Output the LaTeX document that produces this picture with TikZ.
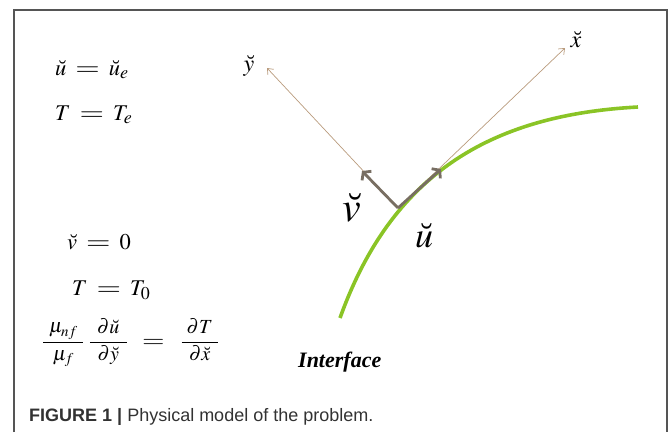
\documentclass[tikz,border=0pt]{standalone}
\usepackage{graphicx}
\usepackage{amsmath}
\usepackage{mathptmx}
\usepackage{fontspec}
\setmainfont{Liberation Serif}
\newfontfamily\capfont{Liberation Sans}
\usetikzlibrary{arrows.meta}
\definecolor{interfacegreen}{RGB}{138,196,38}
\definecolor{axisbrown}{RGB}{185,155,125}
\definecolor{velgray}{RGB}{120,110,98}
\definecolor{framegray}{RGB}{85,85,85}
\definecolor{captiongray}{RGB}{50,50,50}
% wide equals sign and larger subscripts
\newcommand{\eqs}{\mathrel{\hspace{4pt}\scalebox{1.4}[1.05]{$=$}\hspace{4pt}}}
\newcommand{\bigsub}[2]{_{\mbox{\fontsize{#1}{#1}\selectfont$#2$}}}
\newcommand{\padfrac}[3]{\dfrac{\makebox[#1]{$#2$}}{\makebox[#1]{$#3$}}}
\tikzset{
    eq/.style={anchor=base west, inner sep=0pt, font=\fontsize{22.5}{26}\selectfont},
    axis/.style={axisbrown, line width=0.7pt, -{Straight Barb[length=5pt,width=8pt]}},
    vel/.style={velgray, line width=2.8pt, -{Straight Barb[length=5pt,width=13pt]}},
}
\begin{document}
\begin{tikzpicture}[x=1pt,y=-1pt]
        \useasboundingbox (0,0) rectangle (669,432);
        % frame
            \draw[framegray, line width=1.4pt] (14,432) -- (14,10) -- (667,10) -- (667,432);
        % boundary conditions
            \node[eq] (ue) at (55,75) {$\breve{u}\eqs\breve{u}\bigsub{18}{e}$};
            \node[eq] (Te) at (55,120) {$T\eqs T\bigsub{18}{e}$};
            \node[eq] (v0) at (67,249) {$\breve{v}\eqs 0$};
            \node[eq] (T0) at (72,295) {$T\eqs T\bigsub{18}{0}$};
            \node[eq, font=\fontsize{20}{24}\selectfont] (flux) at (42,347)
                {$\padfrac{40pt}{\mu\bigsub{15}{nf}}{\mu\bigsub{15}{f}}\hspace{4pt}\padfrac{37pt}{\partial\breve{u}}{\partial\breve{y}}\hspace{14pt}\scalebox{1.45}[1.1]{$=$}\hspace{16pt}\padfrac{36pt}{\partial T}{\partial\breve{x}}$};
        % interface
            \draw[interfacegreen, line width=3.6pt] (340,318) .. controls (391,176) and (488,115) .. (638,107);
            \node[anchor=base west, inner sep=0pt, font=\fontsize{22}{26}\selectfont\bfseries\itshape] (iface) at (298,367) {Interface};
        % axes
            \coordinate (O) at (398,208);
            \coordinate (xend) at (565,48);
            \coordinate (yend) at (267,68);
            \coordinate (uend) at (441,169);
            \coordinate (vend) at (362,171);
            \foreach \e in {xend,yend}{
                \draw[axis] (O) -- (\e);
            }
            \foreach \e in {uend,vend}{
                \draw[vel] (O) -- (\e);
            }
        % labels
            \node[inner sep=0pt, font=\fontsize{24}{28}\selectfont] (xlab) at (576,40) {$\breve{x}$};
            \node[inner sep=0pt, font=\fontsize{24}{28}\selectfont] (ylab) at (249,66) {$\breve{y}$};
            \node[inner sep=0pt, font=\fontsize{42}{46}\selectfont] (vlab) at (352,208) {$\breve{v}$};
            \node[inner sep=0pt, font=\fontsize{36}{40}\selectfont] (ulab) at (424,236) {$\breve{u}$};
        % caption
            \node[anchor=base west, inner sep=0pt, text=captiongray, font=\capfont\fontsize{18}{21}\selectfont] (cap) at (29,421)
                {\textbf{FIGURE 1 |} Physical model of the problem.};
\end{tikzpicture}
\end{document}
